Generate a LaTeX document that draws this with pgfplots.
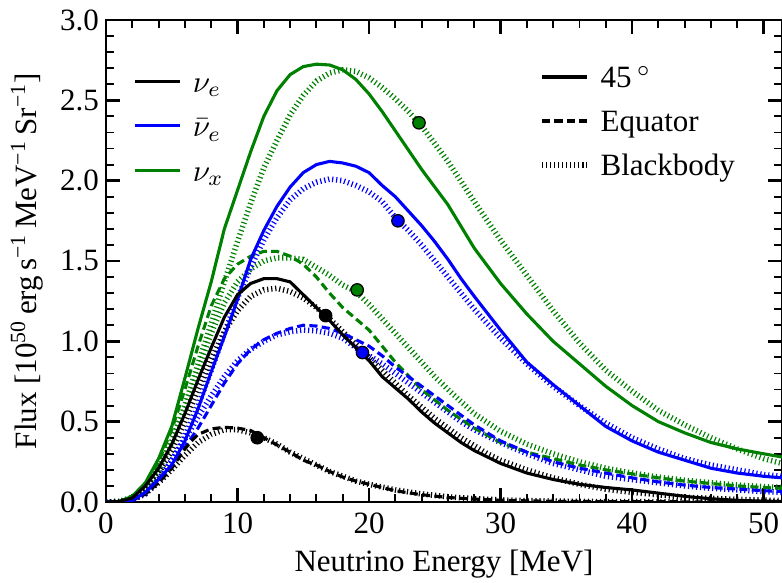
\documentclass[border=0pt]{standalone}
\usepackage{fontspec}
\setmainfont{Liberation Serif}
\usepackage{pgfplots}
\pgfplotsset{compat=1.18}
\definecolor{mplgreen}{rgb}{0,0.5,0}
\tikzset{
  sol/.style={line width=1.0pt},
  eqd/.style={line width=1.0pt, dash pattern=on 2.6pt off 1.4pt},
  bbd/.style={line width=1.8pt, dash pattern=on 0.38pt off 0.92pt},
  dot/.style={only marks, mark=*, mark size=2pt, mark options={draw=black, line width=0.4pt}},
}
\begin{document}
\begin{tikzpicture}
\begin{axis}[name=main,
  scale only axis, width=218.1pt, height=155.5pt,
  xmin=0, xmax=51.4, ymin=0, ymax=3.0,
  xtick={0,10,20,30,40,50}, ytick={0,0.5,1,1.5,2,2.5,3},
  minor x tick num=4, minor y tick num=4,
  tick align=inside,
  major tick length=4.5pt, minor tick length=2.6pt,
  tick style={black, line width=0.8pt}, minor tick style={line width=0.6pt},
  axis line style={line width=0.9pt},
  /pgf/number format/assume math mode=true,
  yticklabel style={/pgf/number format/fixed, /pgf/number format/precision=1, /pgf/number format/fixed zerofill, xshift=1.2pt},
  xlabel={Neutrino Energy [MeV]},
  ylabel={Flux [10\textsuperscript{50}\,erg\,s\textsuperscript{−1}\,MeV\textsuperscript{−1}\,Sr\textsuperscript{−1}]},
  xlabel style={at={(axis description cs:0.5,-0.1286)}, anchor=center},
  ylabel style={at={(axis description cs:-0.1169,0.5)}, anchor=center},
  legend image code/.code={\draw[#1] (0pt,0pt) -- (14.5pt,0pt);},
  legend style={at={(axis description cs:0.0399,0.903)}, anchor=north west, draw=none, fill=none, inner sep=0pt, row sep=5.35pt, column sep=3.6pt, cells={anchor=west}, nodes={inner sep=0pt, text height=8pt, text depth=1pt}},
]
\addlegendimage{black, sol}\addlegendentry{$\nu_e$}
\addlegendimage{blue, sol}\addlegendentry{$\bar{\nu}_e$}
\addlegendimage{mplgreen, sol}\addlegendentry{$\nu_x$}

% ---- blackbody (dotted) curves ----
\addplot[forget plot, mplgreen, bbd] coordinates {(0,0)(1,0.002)(2,0.025)(3,0.09)(4,0.21)(5,0.38)(6,0.60)(7,0.86)(8,1.11)(9,1.37)(10,1.62)(11,1.86)(12,2.08)(13,2.25)(14,2.41)(15,2.53)(16,2.62)(17,2.67)(18,2.69)(19,2.68)(20,2.64)(21,2.58)(22,2.51)(23,2.43)(24,2.34)(25,2.23)(26,2.12)(28,1.87)(30,1.63)(32,1.41)(34,1.19)(36,0.99)(38,0.82)(40,0.69)(42,0.57)(44,0.48)(46,0.40)(48,0.33)(50,0.27)(51.4,0.24)};
\addplot[forget plot, mplgreen, bbd] coordinates {(0,0)(1,0.002)(2,0.03)(3,0.09)(4,0.20)(5,0.37)(6,0.58)(7,0.82)(8,1.05)(9,1.24)(10,1.37)(11,1.45)(12,1.50)(13,1.52)(14,1.52)(15,1.51)(16,1.46)(17,1.41)(18,1.35)(19,1.31)(20,1.23)(21,1.14)(22,1.05)(23,0.96)(24,0.87)(25,0.78)(26,0.70)(28,0.55)(30,0.44)(32,0.36)(34,0.30)(36,0.25)(38,0.21)(40,0.18)(42,0.155)(44,0.135)(46,0.12)(48,0.105)(50,0.095)(51.4,0.09)};
\addplot[forget plot, blue, bbd] coordinates {(0,0)(1,0.001)(2,0.012)(3,0.05)(4,0.13)(5,0.25)(6,0.41)(7,0.60)(8,0.82)(9,1.05)(10,1.27)(11,1.46)(12,1.63)(13,1.77)(14,1.88)(15,1.95)(16,1.99)(17,2.01)(18,2.00)(19,1.97)(20,1.93)(21,1.87)(22,1.77)(23,1.69)(24,1.60)(25,1.50)(26,1.40)(27,1.30)(28,1.20)(30,1.02)(32,0.86)(34,0.72)(36,0.60)(38,0.49)(40,0.40)(42,0.33)(44,0.27)(46,0.23)(48,0.20)(50,0.17)(51.4,0.16)};
\addplot[forget plot, blue, bbd] coordinates {(0,0)(1,0.001)(2,0.012)(3,0.055)(4,0.14)(5,0.26)(6,0.39)(7,0.53)(8,0.66)(9,0.78)(10,0.88)(11,0.95)(12,1.00)(13,1.04)(14,1.06)(15,1.07)(16,1.065)(17,1.05)(18,1.02)(19,0.96)(20,0.91)(21,0.86)(22,0.80)(23,0.74)(24,0.68)(25,0.62)(26,0.56)(27,0.50)(28,0.45)(30,0.37)(32,0.30)(34,0.24)(36,0.20)(38,0.16)(40,0.14)(42,0.12)(44,0.10)(46,0.085)(48,0.075)(50,0.065)(51.4,0.06)};
\addplot[forget plot, black, bbd] coordinates {(0,0)(1,0.002)(2,0.02)(3,0.08)(4,0.18)(5,0.32)(6,0.50)(7,0.70)(8,0.89)(9,1.06)(10,1.19)(11,1.28)(12,1.32)(13,1.33)(14,1.31)(15,1.27)(16,1.21)(17,1.14)(18,1.06)(19,0.98)(20,0.90)(21,0.82)(22,0.74)(23,0.66)(24,0.59)(25,0.52)(26,0.46)(27,0.40)(28,0.35)(29,0.30)(30,0.26)(32,0.20)(34,0.15)(36,0.11)(38,0.08)(40,0.06)(42,0.045)(44,0.03)(46,0.022)(48,0.016)(50,0.011)(51.4,0.009)};
\addplot[forget plot, black, bbd] coordinates {(0,0)(1,0.002)(2,0.015)(3,0.055)(4,0.12)(5,0.20)(6,0.29)(7,0.37)(8,0.42)(9,0.45)(10,0.45)(11,0.43)(12,0.40)(13,0.36)(14,0.31)(15,0.27)(16,0.23)(17,0.19)(18,0.16)(19,0.13)(20,0.11)(22,0.075)(24,0.05)(26,0.032)(28,0.02)(30,0.013)(32,0.008)(36,0.003)(42,0.001)(51.4,0)};

% ---- equator (dashed) curves ----
\addplot[forget plot, mplgreen, eqd] coordinates {(0,0)(1,0.003)(2,0.035)(3,0.11)(4,0.25)(5,0.45)(6,0.70)(7,0.97)(8,1.22)(9,1.39)(10,1.48)(11,1.53)(12,1.56)(13,1.56)(14,1.53)(15,1.48)(16,1.40)(17,1.30)(18,1.21)(19,1.14)(20,1.07)(22,0.87)(24,0.70)(26,0.57)(28,0.46)(30,0.37)(32,0.31)(34,0.27)(36,0.23)(38,0.20)(40,0.175)(42,0.15)(44,0.13)(46,0.115)(48,0.10)(50,0.09)(51.4,0.085)};
\addplot[forget plot, blue, eqd] coordinates {(0,0)(1,0.001)(2,0.01)(3,0.05)(4,0.13)(5,0.23)(6,0.34)(7,0.46)(8,0.60)(9,0.74)(10,0.86)(11,0.95)(12,1.01)(13,1.05)(14,1.08)(15,1.10)(16,1.095)(17,1.08)(18,1.05)(19,1.01)(20,0.97)(21,0.91)(22,0.84)(23,0.78)(24,0.72)(25,0.66)(26,0.60)(27,0.54)(28,0.48)(30,0.38)(32,0.31)(34,0.25)(36,0.21)(38,0.18)(40,0.15)(42,0.125)(44,0.105)(46,0.09)(48,0.08)(50,0.07)(51.4,0.065)};
\addplot[forget plot, black, eqd] coordinates {(0,0)(1,0.002)(2,0.012)(3,0.05)(4,0.12)(5,0.21)(6,0.33)(6.5,0.38)(7,0.42)(8,0.455)(9,0.465)(10,0.46)(11,0.445)(12,0.40)(13,0.355)(14,0.31)(15,0.26)(16,0.23)(17,0.19)(18,0.155)(19,0.13)(20,0.11)(21,0.09)(22,0.07)(23,0.057)(24,0.045)(26,0.028)(28,0.018)(30,0.011)(32,0.007)(34,0.004)(38,0.002)(44,0.001)(51.4,0)};

% ---- 45 degree (solid) curves ----
\addplot[forget plot, mplgreen, sol] coordinates {(0,0)(1,0.003)(2,0.035)(3,0.12)(4,0.27)(5,0.47)(6,0.77)(7,1.08)(8,1.37)(9,1.70)(10,1.94)(11,2.18)(12,2.40)(13,2.56)(14,2.66)(15,2.71)(16,2.725)(17,2.72)(18,2.69)(19,2.63)(20,2.54)(21,2.43)(22,2.31)(23,2.19)(24,2.07)(25,1.96)(26,1.85)(28,1.58)(30,1.36)(32,1.17)(34,1.00)(36,0.86)(38,0.72)(40,0.60)(42,0.50)(44,0.43)(46,0.37)(48,0.33)(50,0.30)(51.4,0.28)};
\addplot[forget plot, blue, sol] coordinates {(0,0)(1,0.001)(2,0.01)(3,0.06)(4,0.14)(5,0.23)(6,0.38)(7,0.58)(8,0.81)(9,1.03)(10,1.26)(11,1.51)(12,1.69)(13,1.84)(14,1.96)(15,2.05)(16,2.10)(17,2.12)(18,2.11)(19,2.09)(20,2.05)(21,1.97)(22,1.90)(23,1.81)(24,1.72)(25,1.62)(26,1.51)(27,1.39)(28,1.28)(30,1.07)(32,0.87)(34,0.73)(36,0.60)(38,0.47)(40,0.38)(42,0.31)(44,0.26)(46,0.21)(48,0.18)(50,0.16)(51.4,0.15)};
\addplot[forget plot, black, sol] coordinates {(0,0)(1,0.003)(2,0.025)(3,0.10)(4,0.21)(5,0.36)(6,0.55)(7,0.76)(8,0.96)(9,1.15)(10,1.29)(11,1.36)(12,1.39)(13,1.39)(14,1.37)(15,1.29)(16,1.21)(17,1.13)(18,1.04)(19,0.96)(20,0.88)(21,0.78)(22,0.71)(23,0.64)(24,0.56)(25,0.49)(26,0.43)(27,0.37)(28,0.32)(29,0.28)(30,0.24)(32,0.18)(34,0.14)(36,0.11)(38,0.09)(40,0.075)(42,0.055)(44,0.035)(46,0.02)(48,0.01)(50,0.005)(51.4,0.003)};

% ---- mean-energy dots ----
\addplot[forget plot, dot, mark options={fill=black}] coordinates {(16.7,1.16)(11.5,0.40)};
\addplot[forget plot, dot, mark options={fill=blue}] coordinates {(22.2,1.75)(19.5,0.93)};
\addplot[forget plot, dot, mark options={fill=mplgreen}] coordinates {(23.8,2.36)(19.1,1.32)};
\end{axis}

\begin{axis}[
  scale only axis, width=218.1pt, height=155.5pt,
  at={(main.south west)}, anchor=south west,
  hide axis, xmin=0, xmax=1, ymin=0, ymax=1,
  legend image code/.code={\draw[#1] (0pt,0pt) -- (14.5pt,0pt);},
  legend style={at={(axis description cs:0.640,0.912)}, anchor=north west, draw=none, fill=none, inner sep=0pt, row sep=5.2pt, column sep=3.5pt, cells={anchor=west}, nodes={inner sep=0pt, text height=8pt, text depth=1pt}},
]
\addplot[draw=none, forget plot] coordinates {(0.5,0.5)};
\addlegendimage{black, sol}\addlegendentry{45\,$^\circ$}
\addlegendimage{black, eqd}\addlegendentry{Equator}
\addlegendimage{black, bbd}\addlegendentry{Blackbody}
\end{axis}

\pgfresetboundingbox
\useasboundingbox ([xshift=-34.2pt,yshift=-26.1pt]main.south west) rectangle ([yshift=6.45pt]main.north east);
\end{tikzpicture}
\end{document}
